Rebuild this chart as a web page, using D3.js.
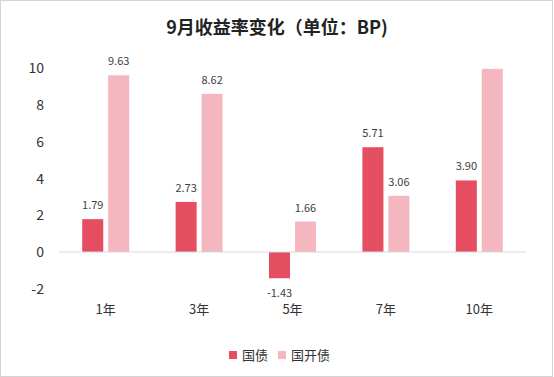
<!DOCTYPE html>
<html>
<head>
<meta charset="utf-8">
<script src="https://cdn.jsdelivr.net/npm/d3@7"></script>
<style>
  html, body { margin:0; padding:0; background:#fff; }
  svg { display:block; }
</style>
</head>
<body>
<div id="chart"></div>
<script>
// ---- data ------------------------------------------------------------
const categories = ["1年", "3年", "5年", "7年", "10年"];
const seriesNames = ["国债", "国开债"];
const govBond   = [1.79, 2.73, -1.43, 5.71, 3.90];
const cdbBond   = [9.63, 8.62, 1.66, 3.06, 9.98];
const yTicks    = [-2, 0, 2, 4, 6, 8, 10];
const colors    = ["#E54D60", "#F4B7C0"];

const W = 554, H = 377;
const margin = { top:68, right:28, bottom:89, left:59 };

const rows = categories.map((c, i) => ({ cat:c, values:[govBond[i], cdbBond[i]] }));

const svg = d3.select("#chart").append("svg")
  .attr("width", W).attr("height", H)
  .attr("font-family", "'Noto Sans CJK SC', 'Noto Sans', sans-serif");

// outer frame
svg.append("rect")
  .attr("x", 0.5).attr("y", 0.5).attr("width", W - 2).attr("height", H - 1)
  .attr("fill", "#fff").attr("stroke", "#d4d4d4");

// title
svg.append("text")
  .attr("x", 277).attr("y", 34)
  .attr("text-anchor", "middle")
  .attr("font-size", 18).attr("font-weight", "bold").attr("fill", "#222")
  .text("9月收益率变化（单位：BP)");

const x0 = d3.scaleBand()
  .domain(categories)
  .range([margin.left, W - margin.right])
  .paddingInner(0.497).paddingOuter(0.2485);

const x1 = d3.scaleBand()
  .domain(seriesNames)
  .range([0, x0.bandwidth()])
  .paddingInner(0.19);

const y = d3.scaleLinear()
  .domain([-2, 10])
  .range([288.7, 68.5]);

// y axis labels (no line)
const yAxisG = svg.append("g")
  .attr("transform", `translate(${margin.left - 8},0)`)
  .call(d3.axisLeft(y).tickValues(yTicks).tickSize(0).tickPadding(7).tickFormat(d => String(d)));
yAxisG.select(".domain").remove();
yAxisG.selectAll("text")
  .attr("font-family", "'Noto Sans CJK SC', 'Noto Sans', sans-serif")
  .attr("font-size", 14).attr("fill", "#333");

// bars
const groups = svg.append("g").selectAll("g")
  .data(rows).join("g")
  .attr("transform", d => `translate(${x0(d.cat)},0)`);

groups.selectAll("rect")
  .data(d => d.values.map((v, j) => ({ name:seriesNames[j], v, j })))
  .join("rect")
  .attr("x", d => x1(d.name))
  .attr("width", x1.bandwidth())
  .attr("y", d => y(Math.max(0, d.v)))
  .attr("height", d => Math.abs(y(d.v) - y(0)))
  .attr("fill", d => colors[d.j]);

// data labels (skip ones that would run above the plot area)
groups.selectAll("text.lbl")
  .data(d => d.values.map((v, j) => ({ name:seriesNames[j], v, j })))
  .join("text")
  .attr("class", "lbl")
  .filter(d => y(d.v) - 10 > 60)
  .attr("x", d => x1(d.name) + x1.bandwidth() / 2)
  .attr("y", d => d.v >= 0 ? y(d.v) - 10 : y(d.v) + 19)
  .attr("text-anchor", "middle")
  .attr("font-size", 11).attr("fill", "#404040")
  .text(d => d.v.toFixed(2));

// x baseline
svg.append("line")
  .attr("x1", margin.left).attr("x2", W - margin.right)
  .attr("y1", y(0)).attr("y2", y(0))
  .attr("stroke", "#d9d9d9").attr("stroke-width", 1);

// category labels
const xAxisG = svg.append("g")
  .attr("transform", `translate(0,${y(-2) + 8})`)
  .call(d3.axisBottom(x0).tickSize(0).tickPadding(8));
xAxisG.select(".domain").remove();
xAxisG.selectAll("text")
  .attr("font-family", "'Noto Sans CJK SC', 'Noto Sans', sans-serif")
  .attr("font-size", 13).attr("fill", "#333");

// legend
const legend = svg.append("g").attr("transform", "translate(229,355)");
const legendX = [0, 49];
seriesNames.forEach((name, i) => {
  const g = legend.append("g").attr("transform", `translate(${legendX[i]},0)`);
  g.append("rect").attr("x", 0).attr("y", -4).attr("width", 8).attr("height", 8).attr("fill", colors[i]);
  g.append("text").attr("x", 13).attr("y", 5)
    .attr("font-size", 13).attr("fill", "#333").text(name);
});
</script>
</body>
</html>
